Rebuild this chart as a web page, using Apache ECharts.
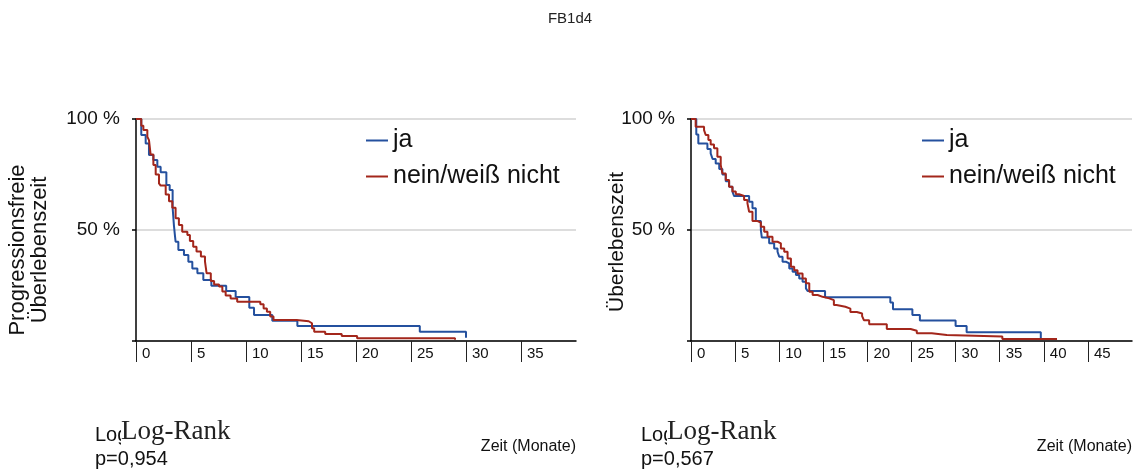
<!DOCTYPE html>
<html>
<head>
<meta charset="utf-8">
<script src="https://cdn.jsdelivr.net/npm/echarts@6/dist/echarts.min.js"></script>
<style>html,body{margin:0;padding:0;background:#fff}#c{width:1140px;height:474px}</style>
</head>
<body>
<div id="c"></div>
<script>
// ---- data (time in months, survival in %) ----
const seriesNames = ['ja', 'nein/weiß nicht'];
const yTicks = [0, 50, 100];
const leftXTicks = [0, 5, 10, 15, 20, 25, 30, 35, 40];
const rightXTicks = [0, 5, 10, 15, 20, 25, 30, 35, 40, 45, 50];

const leftJa = [[0,100],[0.48,92.8],[0.88,89],[1.18,83.8],[1.58,81.5],[1.94,78.5],[2.24,76],[2.76,70.3],[3.06,68],[3.33,60],[3.45,52],[3.55,47],[3.6,44.7],[3.85,41],[4.36,38.7],[4.76,35.7],[5.12,32.7],[5.58,30.5],[6.12,27.5],[6.85,24.9],[8.2,22.5],[9.06,19.8],[10.3,15],[10.73,11.7],[12.39,9.1],[14.67,6.8],[25.8,4.2],[30,4.2],[30,1.5]];
const leftNein = [[0,100],[0.48,97],[0.67,95],[1.03,92],[1.18,90.5],[1.33,84],[1.58,79.3],[1.79,75],[2.09,71],[2.24,70],[2.7,66],[3.0,63],[3.3,60],[3.6,55.3],[3.9,52.3],[4.2,49.2],[4.67,47.7],[4.9,45],[5.2,42.5],[5.5,40.3],[5.9,38.1],[6.27,35.9],[6.42,30.5],[6.8,27],[7.1,25.5],[7.55,24.5],[7.85,22.3],[8.15,20.5],[8.6,19.2],[9.2,17.7],[11.3,16.5],[11.6,14.6],[11.9,13.2],[12.2,11],[12.5,9.5],[14.6,8.9],[15.7,8],[16.0,5.7],[16.2,4.2],[17.2,3.2],[18.7,2.25],[20.1,1.2],[29,1.2],[29,0.6]];
const rightJa = [[0,100],[0.6,93],[0.83,89],[1.86,86.5],[2.23,84.5],[2.45,82],[2.8,80],[3.2,77.5],[3.56,75],[3.94,72],[4.32,69.5],[4.7,67.3],[4.89,65.3],[6.59,62.7],[6.97,59.8],[7.35,54],[7.92,50],[8.03,46.6],[8.86,44],[9.43,41.7],[9.81,40.2],[10.0,38],[10.38,35.7],[10.76,35],[11.14,32.7],[11.52,31.2],[11.9,29.7],[12.27,28.2],[12.65,26.7],[13.03,23.7],[13.22,22.5],[15.2,19.7],[22.6,17.3],[22.9,14.3],[25.1,11.7],[25.95,9.2],[30.0,6.8],[31.25,3.9],[39.66,3.9],[39.66,1.4]];
const rightNein = [[0,100],[0.53,96.5],[1.48,95],[1.67,92.8],[1.97,90.5],[2.23,88.5],[2.61,86.8],[2.99,83],[3.37,79.3],[3.56,75.5],[3.94,72.5],[4.32,69.5],[4.7,67.3],[5.08,66.1],[5.45,65.3],[6.02,63.5],[6.4,62],[6.59,58.2],[6.97,54],[7.54,53.4],[7.92,51.5],[8.3,49.2],[8.67,47],[9.24,44.7],[9.81,44],[10.19,41.7],[10.57,40.2],[10.95,37.2],[11.33,33.4],[11.7,31.9],[12.08,30.4],[12.65,28.2],[13.03,26],[13.41,22.2],[13.79,20.7],[14.36,19.9],[14.92,19.2],[15.68,18.4],[16.2,16.2],[16.5,15.4],[17.5,14.6],[18.07,13.1],[18.8,12.4],[19.4,11.2],[19.6,9.4],[20.2,7.6],[22.2,5.4],[24.9,4.6],[25.6,3.5],[27.3,2.7],[29.0,2.0],[35.3,0.9],[41.5,0.9]];

const titleText = 'FB1d4';
const leftYName = ['Progressionsfreie', 'Überlebenszeit'];
const rightYName = 'Überlebenszeit';
const xName = 'Zeit (Monate)';
const leftP = 'p=0,954';
const rightP = 'p=0,567';
const testName = 'Log-Rank';

const BLUE = '#24509e';
const RED = '#a3261b';
const FONT = '"Liberation Sans", Arial, Helvetica, sans-serif';
const SERIF = '"Liberation Serif", "Times New Roman", serif';

function xAxis(gridIndex, ticks) {
  return {
    gridIndex, type: 'value', min: ticks[0], max: ticks[ticks.length - 1], interval: ticks[1] - ticks[0],
    axisLine: { show: true, onZero: false, lineStyle: { color: '#000', width: 1.5 } },
    axisTick: { show: true, length: 21, lineStyle: { color: '#222', width: 1 } },
    axisLabel: { showMaxLabel: false, align: 'left', padding: [0, 0, 0, 6], margin: 5, fontSize: 15, color: '#111', fontFamily: FONT, lineHeight: 15 },
    splitLine: { show: false }
  };
}
function yAxis(gridIndex) {
  return {
    gridIndex, type: 'value', min: yTicks[0], max: yTicks[yTicks.length - 1], interval: yTicks[1] - yTicks[0],
    axisLine: { show: true, lineStyle: { color: '#000', width: 1.5 } },
    axisTick: { show: true, length: 4, lineStyle: { color: '#000', width: 1.5 } },
    axisLabel: { formatter: v => v === 0 ? '' : v + ' %', margin: 16, fontSize: 19, color: '#111', fontFamily: FONT },
    splitLine: { show: true, lineStyle: { color: '#d2d2d2', width: 1.5 } }
  };
}
function km(name, data, idx, color) {
  return {
    type: 'line', name, data, xAxisIndex: idx, yAxisIndex: idx, step: 'end',
    showSymbol: false, symbol: 'none', color, lineStyle: { color, width: 2 }, animation: false
  };
}
function legend(left) {
  return { left, top: 128, padding: 0, orient: 'vertical', itemWidth: 22, itemHeight: 2, icon: 'rect', itemGap: 11, data: seriesNames,
    textStyle: { fontSize: 25, lineHeight: 25, color: '#111', fontFamily: FONT } };
}

const chart = echarts.init(document.getElementById('c'), null, { renderer: 'canvas' });
chart.setOption({
  animation: false,
  backgroundColor: '#fff',
  title: { text: titleText, left: 'center', top: 6, textStyle: { fontSize: 15, fontWeight: 'normal', color: '#222', fontFamily: FONT } },
  grid: [
    { left: 136, top: 119, width: 440, height: 222 },
    { left: 691, top: 119, width: 441, height: 222 }
  ],
  xAxis: [xAxis(0, leftXTicks), xAxis(1, rightXTicks)],
  yAxis: [yAxis(0), yAxis(1)],
  legend: [legend(366), legend(922)],
  series: [
    km(seriesNames[0], leftJa, 0, BLUE),
    km(seriesNames[1], leftNein, 0, RED),
    km(seriesNames[0], rightJa, 1, BLUE),
    km(seriesNames[1], rightNein, 1, RED)
  ],
  graphic: [
    { type: 'text', x: 29, y: 250, rotation: Math.PI / 2, style: { text: leftYName.join('\n'), font: '22px ' + FONT, lineHeight: 22, fill: '#111', align: 'center', verticalAlign: 'middle' } },
    { type: 'text', x: 617, y: 242, rotation: Math.PI / 2, style: { text: rightYName, fill: '#111', font: '21px ' + FONT, align: 'center', verticalAlign: 'middle' } },
    { type: 'text', x: 576, y: 447, style: { text: xName, fill: '#111', font: '16px ' + FONT, align: 'right', verticalAlign: 'middle' } },
    { type: 'text', x: 1132, y: 447, style: { text: xName, fill: '#111', font: '16px ' + FONT, align: 'right', verticalAlign: 'middle' } },
    { type: 'text', x: 95, y: 435, style: { text: testName, fill: '#111', font: '20px ' + FONT, verticalAlign: 'middle' } },
    { type: 'text', x: 121, y: 432, z: 10, style: { text: testName, fill: '#222', font: '27px ' + SERIF, verticalAlign: 'middle', backgroundColor: '#fff', padding: [0, 2, 0, 0] } },
    { type: 'text', x: 95, y: 459, style: { text: leftP, fill: '#111', font: '20px ' + FONT, verticalAlign: 'middle' } },
    { type: 'text', x: 641, y: 435, style: { text: testName, fill: '#111', font: '20px ' + FONT, verticalAlign: 'middle' } },
    { type: 'text', x: 667, y: 432, z: 10, style: { text: testName, fill: '#222', font: '27px ' + SERIF, verticalAlign: 'middle', backgroundColor: '#fff', padding: [0, 2, 0, 0] } },
    { type: 'text', x: 641, y: 459, style: { text: rightP, fill: '#111', font: '20px ' + FONT, verticalAlign: 'middle' } }
  ]
});
</script>
</body>
</html>
